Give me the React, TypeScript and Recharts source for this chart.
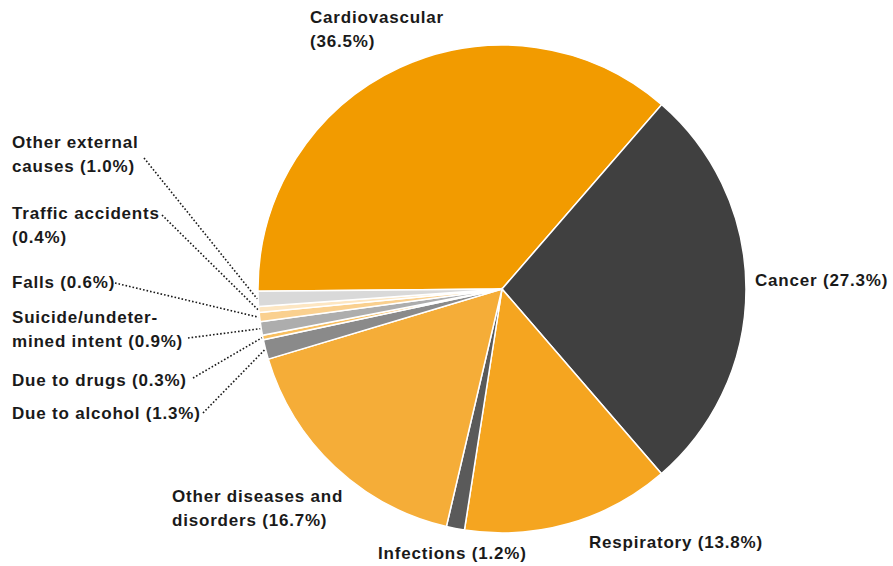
import React from 'react';
import { PieChart, Pie, Cell } from 'recharts';

const categories = [
  'Cardiovascular',
  'Cancer',
  'Respiratory',
  'Infections',
  'Other diseases and disorders',
  'Due to alcohol',
  'Due to drugs',
  'Suicide/undetermined intent',
  'Falls',
  'Traffic accidents',
  'Other external causes',
];

const shares = [36.5, 27.3, 13.8, 1.2, 16.7, 1.3, 0.3, 0.9, 0.6, 0.4, 1.0];

const labelTexts = [
  ['Cardiovascular', '(36.5%)'],
  ['Cancer (27.3%)'],
  ['Respiratory (13.8%)'],
  ['Infections (1.2%)'],
  ['Other diseases and', 'disorders (16.7%)'],
  ['Due to alcohol (1.3%)'],
  ['Due to drugs (0.3%)'],
  ['Suicide/undeter-', 'mined intent (0.9%)'],
  ['Falls (0.6%)'],
  ['Traffic accidents', '(0.4%)'],
  ['Other external', 'causes (1.0%)'],
];

const colors = [
  '#F29B00',
  '#404040',
  '#F5A520',
  '#5A5A5A',
  '#F5AD38',
  '#8A8A8A',
  '#F8BF60',
  '#ADADAD',
  '#FAD08F',
  '#FDE6C2',
  '#D9D9D9',
];

type Layout = { x: number; y: number; lead?: [number, number] };
const labelLayout: Layout[] = [
  { x: 310, y: 23 },
  { x: 755, y: 286 },
  { x: 589, y: 548 },
  { x: 378, y: 559 },
  { x: 172, y: 502 },
  { x: 12, y: 419, lead: [203, 413] },
  { x: 12, y: 386, lead: [193, 378] },
  { x: 12, y: 323, lead: [188, 338] },
  { x: 12, y: 288, lead: [115, 283] },
  { x: 12, y: 219, lead: [162, 215] },
  { x: 12, y: 148, lead: [144, 158] },
];

const data = categories.map((name, i) => ({ name, value: shares[i] }));

const RAD = Math.PI / 180;

const renderLabel = (props: any) => {
  const { cx, cy, midAngle, outerRadius, index } = props;
  const lay = labelLayout[index];
  const lines = labelTexts[index];
  let leader = null;
  if (lay.lead) {
    const r = outerRadius + 1;
    const ex = cx + r * Math.cos(-midAngle * RAD);
    const ey = cy + r * Math.sin(-midAngle * RAD);
    leader = (
      <line
        x1={lay.lead[0]}
        y1={lay.lead[1]}
        x2={ex}
        y2={ey}
        stroke="#1a1a1a"
        strokeWidth={1.6}
        strokeDasharray="1.6 2"
      />
    );
  }
  return (
    <g key={`lbl-${index}`}>
      {leader}
      <text
        x={lay.x}
        y={lay.y}
        fill="#1a1a1a"
        fontFamily="'Liberation Sans', Arial, Helvetica, sans-serif"
        fontWeight={700}
        fontSize={17}
        textAnchor="start"
        style={{ letterSpacing: '0.8px' }}
      >
        {lines.map((t, k) => (
          <tspan key={k} x={lay.x} dy={k === 0 ? 0 : 24}>
            {t}
          </tspan>
        ))}
      </text>
    </g>
  );
};

export default function App() {
  return (
    <div style={{ position: 'absolute', left: 0, top: 0, width: 893, height: 566, background: '#fff' }}>
      <PieChart width={893} height={566} margin={{ top: 0, right: 0, bottom: 0, left: 0 }}>
        <Pie
          data={data}
          dataKey="value"
          nameKey="name"
          cx={502}
          cy={289}
          outerRadius={244}
          startAngle={180.5}
          endAngle={-179.5}
          stroke="#ffffff"
          strokeWidth={1.5}
          label={renderLabel}
          labelLine={false}
          isAnimationActive={false}
        >
          {data.map((d, i) => (
            <Cell key={d.name} fill={colors[i]} />
          ))}
        </Pie>
      </PieChart>
    </div>
  );
}
